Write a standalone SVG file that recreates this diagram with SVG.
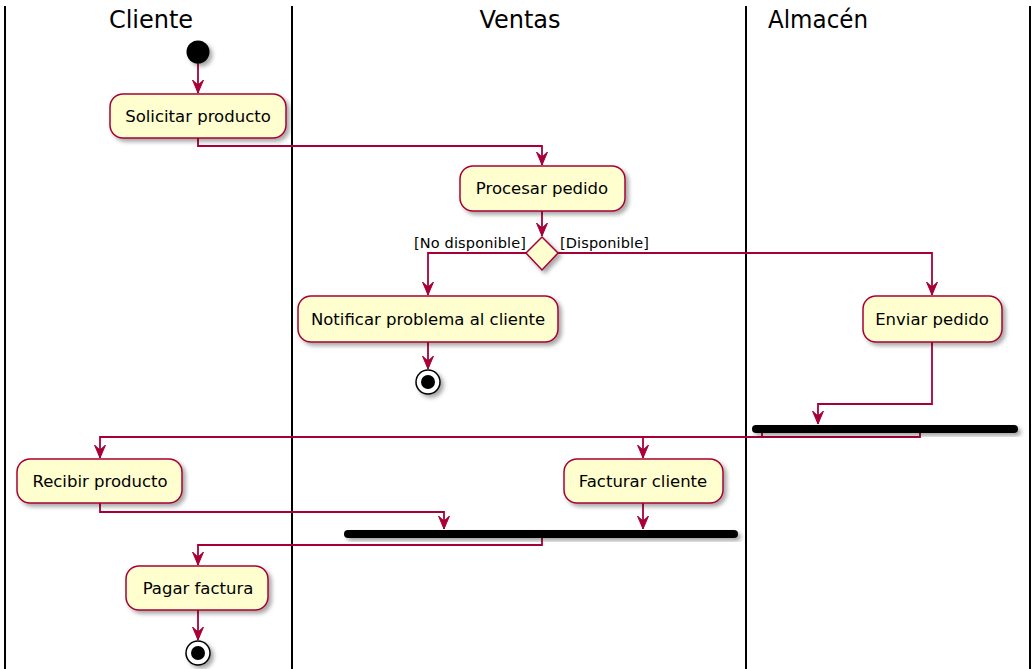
<svg xmlns="http://www.w3.org/2000/svg" width="1036" height="669" viewBox="0 0 1036 669">
<defs>
<filter id="sh" x="-20%" y="-20%" width="150%" height="160%">
<feDropShadow dx="3" dy="3" stdDeviation="2" flood-color="#000" flood-opacity="0.35"/>
</filter>
<marker id="ah" viewBox="0 0 14 14" refX="13" refY="7" markerWidth="14" markerHeight="14" markerUnits="userSpaceOnUse" orient="auto">
<path d="M0,1.5 L13,7 L0,12.5 L5,7 Z" fill="#A80036" stroke="#A80036" stroke-width="1"/>
</marker>
<style>
.lane{stroke:#000;stroke-width:2;fill:none}
.title{font-family:"DejaVu Sans",sans-serif;font-size:24px;fill:#000}
.box{fill:#FEFECE;stroke:#A80036;stroke-width:1.5;filter:url(#sh)}
.txt{font-family:"DejaVu Sans",sans-serif;font-size:16.5px;fill:#000;text-anchor:middle}
.lbl{font-family:"DejaVu Sans",sans-serif;font-size:14.5px;fill:#000}
.c{fill:none;stroke:#A80036;stroke-width:1.8}
.bar{fill:#000;filter:url(#sh)}
</style>
</defs>
<rect width="1036" height="669" fill="#fff"/>
<g id="lanes">
<line class="lane" x1="5" y1="6" x2="5" y2="669"/>
<line class="lane" x1="292" y1="6" x2="292" y2="669"/>
<line class="lane" x1="746" y1="6" x2="746" y2="669"/>
<line class="lane" x1="1030" y1="6" x2="1030" y2="669"/>
<text class="title" x="151" y="28" text-anchor="middle">Cliente</text>
<text class="title" x="520" y="28" text-anchor="middle">Ventas</text>
<text class="title" x="768" y="28" textLength="100" lengthAdjust="spacingAndGlyphs">Almacén</text>
</g>
<g id="connectors">
<path class="c" d="M198,63 L198,93" marker-end="url(#ah)"/>
<path class="c" d="M198,138 L198,146 L542,146 L542,165" marker-end="url(#ah)"/>
<path class="c" d="M542,211 L542,236" marker-end="url(#ah)"/>
<path class="c" d="M526,253 L428,253 L428,295" marker-end="url(#ah)"/>
<path class="c" d="M558,253 L932,253 L932,295" marker-end="url(#ah)"/>
<path class="c" d="M428,342 L428,369" marker-end="url(#ah)"/>
<path class="c" d="M932,342 L932,404 L818,404 L818,424" marker-end="url(#ah)"/>
<path class="c" d="M762,432 L762,437 L100,437 L100,458" marker-end="url(#ah)"/>
<path class="c" d="M920,432 L920,437 L643,437 L643,458" marker-end="url(#ah)"/>
<path class="c" d="M100,503 L100,512 L444,512 L444,529" marker-end="url(#ah)"/>
<path class="c" d="M643,503 L643,529" marker-end="url(#ah)"/>
<path class="c" d="M542,538 L542,545 L198,545 L198,565" marker-end="url(#ah)"/>
<path class="c" d="M198,610 L198,640" marker-end="url(#ah)"/>
</g>
<g id="start"><circle cx="198" cy="52" r="11.5" fill="#000" filter="url(#sh)"/></g>
<g id="solicitar"><rect class="box" x="110" y="94" width="176" height="44" rx="13"/><text class="txt" x="198" y="122">Solicitar producto</text></g>
<g id="procesar"><rect class="box" x="460" y="166" width="165" height="45" rx="13"/><text class="txt" x="542" y="194">Procesar pedido</text></g>
<g id="decision">
<polygon points="542,237 558,253 542,270 526,253" fill="#FEFECE" stroke="#A80036" stroke-width="1.5" filter="url(#sh)"/>
<text class="lbl" x="526" y="248" text-anchor="end" textLength="112" lengthAdjust="spacing">[No disponible]</text>
<text class="lbl" x="560" y="248" textLength="89" lengthAdjust="spacing">[Disponible]</text>
</g>
<g id="notificar"><rect class="box" x="298" y="296" width="260" height="46" rx="13"/><text class="txt" x="428" y="325">Notificar problema al cliente</text></g>
<g id="stop1"><circle cx="428" cy="382" r="12" fill="#fff" stroke="#000" stroke-width="1.5" filter="url(#sh)"/><circle cx="428" cy="382" r="7" fill="#000"/></g>
<g id="enviar"><rect class="box" x="863" y="296" width="139" height="46" rx="13"/><text class="txt" x="932" y="325">Enviar pedido</text></g>
<g id="fork1"><rect class="bar" x="752" y="425" width="266" height="8" rx="4"/></g>
<g id="recibir"><rect class="box" x="17" y="459" width="165" height="44" rx="13"/><text class="txt" x="100" y="487">Recibir producto</text></g>
<g id="facturar"><rect class="box" x="564" y="459" width="159" height="44" rx="13"/><text class="txt" x="643" y="487">Facturar cliente</text></g>
<g id="fork2"><rect class="bar" x="344" y="530" width="394" height="8" rx="4"/></g>
<g id="pagar"><rect class="box" x="126" y="566" width="142" height="44" rx="13"/><text class="txt" x="198" y="594">Pagar factura</text></g>
<g id="stop2"><circle cx="198" cy="653" r="12" fill="#fff" stroke="#000" stroke-width="1.5" filter="url(#sh)"/><circle cx="198" cy="653" r="7" fill="#000"/></g>
</svg>
